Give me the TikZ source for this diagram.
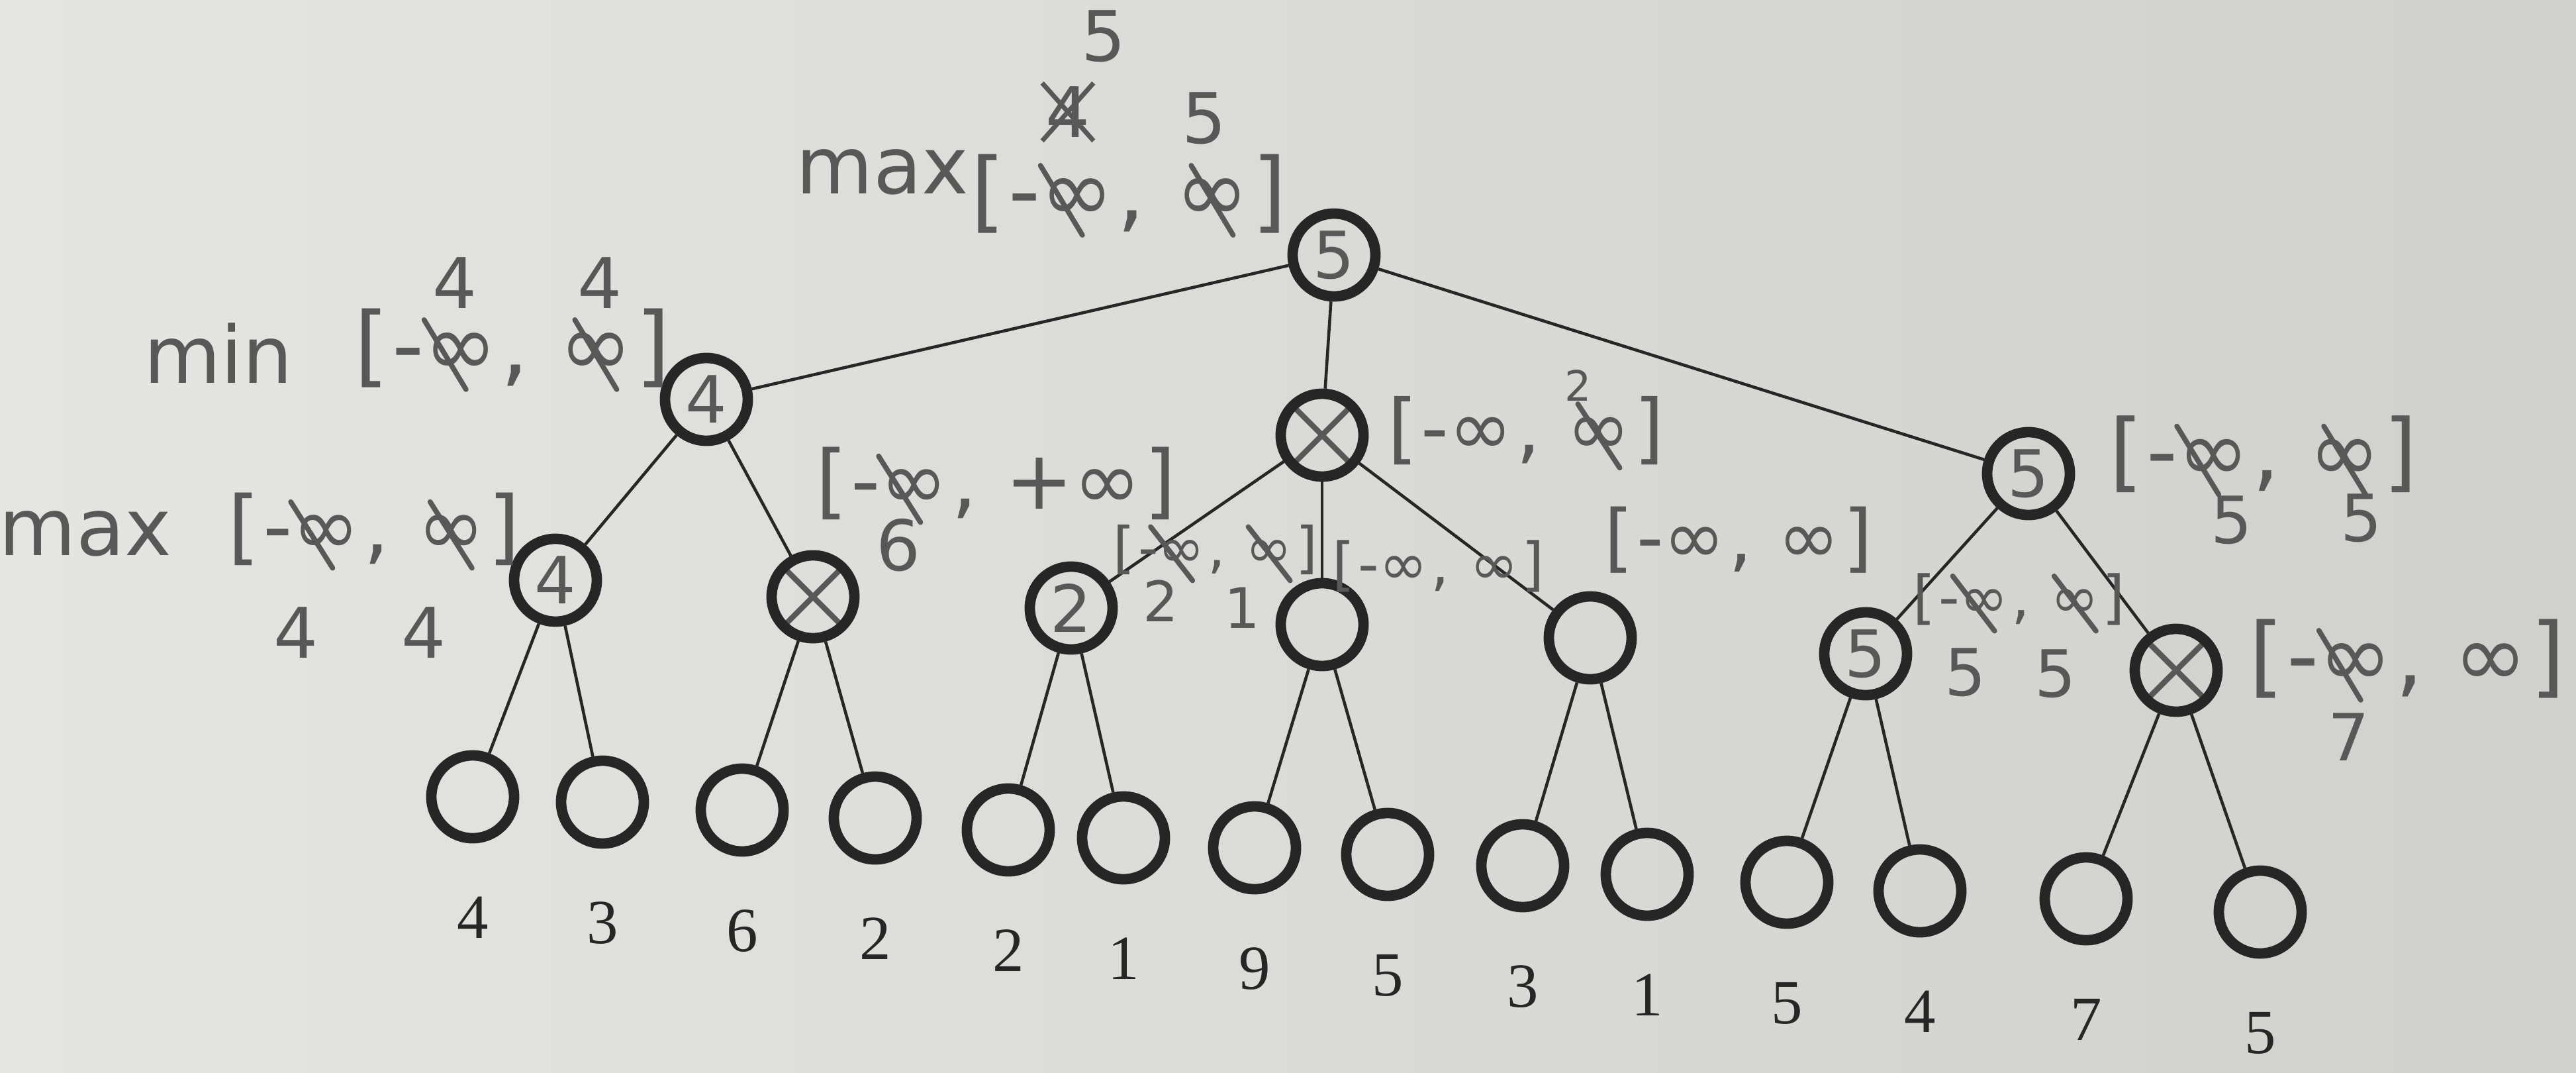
\documentclass[tikz,border=0pt]{standalone}
\usepackage{fontspec}
\setmainfont{Liberation Serif}
\newfontfamily\handfont{DejaVu Sans}
\usetikzlibrary{positioning,shapes.misc}
\definecolor{paper}{RGB}{208,208,205}
\definecolor{paperlight}{RGB}{229,229,226}
\definecolor{ink}{RGB}{38,38,38}
\definecolor{pencil}{RGB}{88,88,88}
\tikzset{
  state/.style={circle, draw=ink, line width=4.5pt, minimum size=1.25cm, inner sep=0pt,
    text=pencil, font=\handfont\fontsize{28}{28}\selectfont},
  pruned/.style={path picture={\draw[pencil, line width=2.4pt]
    (path picture bounding box.north west) -- (path picture bounding box.south east)
    (path picture bounding box.north east) -- (path picture bounding box.south west);}},
  branch/.style={draw=ink, line width=1.3pt},
  hand/.style={text=pencil, inner sep=0.5pt, font=\handfont\fontsize{#1}{#1}\selectfont},
  hand/.default=30,
  gone/.style={append after command={\pgfextra{\draw[pencil, line width=2.2pt, line cap=round]
    ([shift={(-9pt,5pt)}]\tikzlastnode.north) -- ([shift={(9pt,-5pt)}]\tikzlastnode.south);}}},
  kept/.style={},
  value/.style={inner sep=0pt, text=ink, font=\fontsize{27}{27}\selectfont},
}
% [alpha, beta] written beside a node
\newcommand\bounds[6][∞]{%
  \node[hand=#4, anchor=west] (#2l) at #3 {[};
  \node[hand=#4, #5, anchor=base west] (#2lo) at (#2l.base east) {-∞};
  \node[hand=#4, anchor=base west] (#2c) at (#2lo.base east) {,\kern.3em};
  \node[hand=#4, #6, anchor=base west] (#2hi) at (#2c.base east) {#1};
  \node[hand=#4, anchor=base west] (#2r) at (#2hi.base east) {]};
}
\begin{document}
\begin{tikzpicture}
  \useasboundingbox (0,0) rectangle (38.91,-16.20);
  \shade[left color=paperlight, right color=paper] (0,0) rectangle (38.91,-16.20);

  % game tree
  \node[state] (n) at (20.15,-3.85) {5};
  \node[state] (n1) at (10.67,-6.03) {4};
  \node[state, pruned] (n2) at (19.97,-6.57) {};
  \node[state] (n3) at (30.64,-7.15) {5};
  \node[state] (n11) at (8.39,-8.76) {4};
  \node[state, pruned] (n12) at (12.28,-9.01) {};
  \node[state] (n21) at (16.18,-9.18) {2};
  \node[state] (n22) at (19.97,-9.43) {};
  \node[state] (n23) at (24.02,-9.63) {};
  \node[state] (n31) at (28.18,-9.87) {5};
  \node[state, pruned] (n32) at (32.87,-10.12) {};
  \foreach \x/\y/\v [count=\i] in {7.14/-12.03/4, 9.10/-12.11/3, 11.21/-12.23/6, 13.22/-12.35/2,
      15.23/-12.53/2, 16.97/-12.65/1, 18.95/-12.80/9, 20.96/-12.90/5, 23.00/-13.07/3,
      24.88/-13.20/1, 26.99/-13.32/5, 29.00/-13.45/4, 31.51/-13.57/7, 34.14/-13.77/5} {
    \node[state] (t\i) at (\x,\y) {};
    \node[value, below=0.8cm of t\i] (v\i) {\v};
  }
  \foreach \a/\b in {n/n1, n/n2, n/n3, n1/n11, n1/n12, n2/n21, n2/n22, n2/n23, n3/n31, n3/n32,
      n11/t1, n11/t2, n12/t3, n12/t4, n21/t5, n21/t6, n22/t7, n22/t8, n23/t9, n23/t10,
      n31/t11, n31/t12, n32/t13, n32/t14}
    \draw[branch] (\a) -- (\b);

  % level names and bounds
  \node[hand=34] (maxtop) at (13.33,-2.60) {max};
  \node[hand=34] (minmid) at (3.30,-5.33) {min};
  \node[hand=34] (maxlow) at (1.29,-8.06) {max};
  \bounds{nb}{(14.64,-2.93)}{38}{gone}{gone}
  \bounds{n1b}{(5.33,-5.26)}{38}{gone}{gone}
  \bounds{n11b}{(3.42,-7.99)}{35}{gone}{gone}
  \bounds[+∞]{n12b}{(12.30,-7.30)}{35}{gone}{kept}
  \bounds{n2b}{(20.94,-6.50)}{33}{kept}{gone}
  \bounds{n21b}{(16.79,-8.30)}{24}{gone}{gone}
  \bounds{n22b}{(20.10,-8.55)}{25}{kept}{kept}
  \bounds{n23b}{(24.21,-8.15)}{32}{kept}{kept}
  \bounds{n3b}{(31.84,-6.86)}{37}{gone}{gone}
  \bounds{n31b}{(28.87,-9.05)}{25}{gone}{gone}
  \bounds{n32b}{(33.95,-9.95)}{38}{gone}{kept}

  % updated values
  \node[hand, cross out, draw=pencil, line width=2pt] (nold) at (16.13,-1.69) {4};
  \node[hand] (nalpha) at (16.67,-0.55) {5};
  \node[hand] (nbeta) at (18.19,-1.79) {5};
  \node[hand] (n1alpha) at (6.87,-4.27) {4};
  \node[hand] (n1beta) at (9.06,-4.27) {4};
  \node[hand] (n11alpha) at (4.47,-9.55) {4};
  \node[hand] (n11beta) at (6.40,-9.55) {4};
  \node[hand] (n12alpha) at (13.57,-8.23) {6};
  \node[hand=18] (n2beta) at (23.84,-5.82) {2};
  \node[hand=24] (n21alpha) at (17.53,-9.07) {2};
  \node[hand=24] (n21beta) at (18.76,-9.18) {1};
  \node[hand=28] (n3alpha) at (33.71,-7.85) {5};
  \node[hand=28] (n3beta) at (35.67,-7.82) {5};
  \node[hand=28] (n31alpha) at (29.69,-10.15) {5};
  \node[hand=28] (n31beta) at (31.05,-10.17) {5};
  \node[hand=28] (n32alpha) at (35.48,-11.13) {7};
\end{tikzpicture}
\end{document}
